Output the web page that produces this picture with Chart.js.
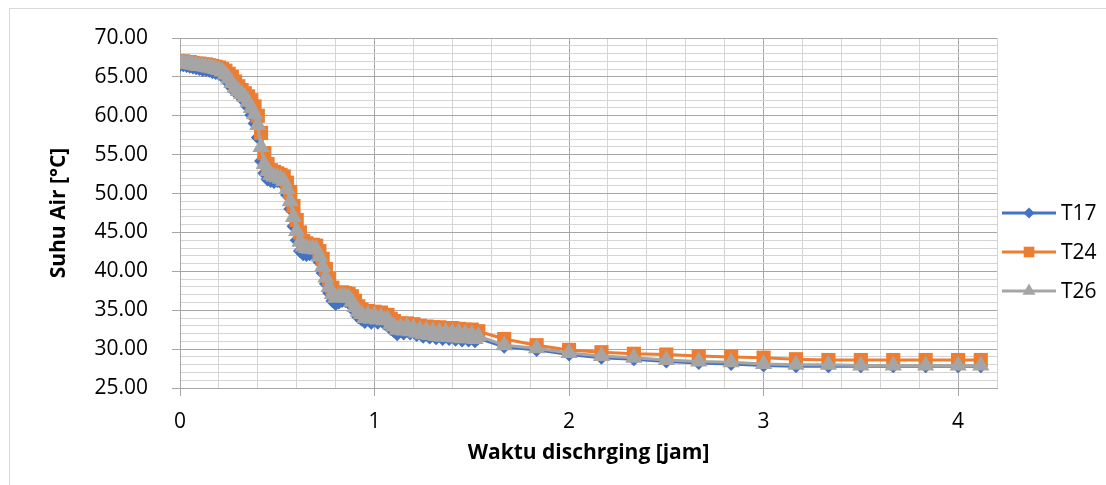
<!DOCTYPE html>
<html>
<head>
<meta charset="utf-8">
<script src="https://cdn.jsdelivr.net/npm/chart.js@4.4.1/dist/chart.umd.min.js"></script>
<style>
    html, body { margin: 0; padding: 0; background: #fff; }
    #wrap { width: 1106px; height: 485px; position: relative; }
</style>
</head>
<body>
<div id="wrap"><canvas id="dischargeChart" width="1106" height="485"></canvas></div>
<script>
// waktu pengukuran (menit sejak mulai discharging)
const menit = [
    0, 1, 2, 3, 4, 5, 6, 7, 8, 9,
    10, 11, 12, 13, 14, 15, 16, 17, 18, 19,
    20, 21, 22, 23, 24, 25, 26, 27, 28, 29,
    30, 31, 32, 33, 34, 35, 36, 37, 38, 39,
    40, 41, 42, 43, 44, 45, 46, 47, 48, 49,
    50, 51, 52, 53, 54, 55, 56, 57, 58, 59,
    60, 61, 62, 63, 64, 65, 66, 67, 68, 69,
    70, 71, 72, 73, 74, 75, 76, 77, 78, 79,
    80, 81, 82, 83, 84, 85, 86, 87, 88, 89,
    90, 91, 92,
    100, 110, 120, 130, 140, 150, 160, 170, 180, 190,
    200, 210, 220, 230, 240, 247
];

const t17 = [
    66.5, 66.5, 66.4, 66.3, 66.2, 66.1, 66.0, 65.9, 65.9, 65.8,
    65.6, 65.5, 65.4, 65.1, 64.7, 64.2, 63.6, 63.1, 62.7, 62.3,
    61.8, 61.1, 60.1, 59.0, 57.2, 54.2, 52.6, 51.8, 51.6, 51.5,
    51.6, 51.5, 51.1, 49.8, 48.0, 45.8, 44.0, 42.6, 42.2, 42.1,
    42.2, 42.3, 42.2, 41.2, 39.8, 38.4, 37.2, 36.2, 35.8, 36.0,
    36.2, 36.2, 36.1, 35.5, 34.8, 34.1, 33.8, 33.5, 33.8, 33.4,
    33.9, 33.4, 33.7, 33.3, 33.2, 32.6, 32.3, 31.9, 32.4, 32.0,
    32.6, 32.0, 32.4, 31.8, 32.2, 31.6, 32.1, 31.5, 32.0, 31.4,
    31.9, 31.3, 31.9, 31.3, 31.8, 31.2, 31.8, 31.1, 31.7, 31.1,
    31.6, 31.0, 31.4,
    30.3, 29.9, 29.3, 28.9, 28.7, 28.4, 28.2, 28.1, 27.9, 27.8,
    27.8, 27.8, 27.8, 27.8, 27.8, 27.8
];

const t24 = [
    67.0, 67.0, 66.9, 66.9, 66.8, 66.7, 66.7, 66.6, 66.6, 66.5,
    66.4, 66.3, 66.2, 66.0, 65.8, 65.4, 65.0, 64.4, 63.8, 63.3,
    62.9, 62.5, 62.0, 61.2, 60.0, 57.8, 55.2, 53.8, 53.0, 52.8,
    52.6, 52.4, 52.2, 51.4, 50.2, 48.4, 46.6, 45.0, 43.9, 43.6,
    43.4, 43.4, 43.3, 42.6, 41.6, 40.3, 39.0, 37.9, 37.2, 37.2,
    37.3, 37.2, 37.1, 36.8, 36.2, 35.5, 35.1, 34.7, 34.9, 34.5,
    34.8, 34.5, 34.7, 34.3, 34.4, 33.9, 33.6, 33.1, 33.3, 32.9,
    33.3, 32.9, 33.2, 32.8, 33.0, 32.6, 32.9, 32.5, 32.8, 32.4,
    32.8, 32.3, 32.7, 32.3, 32.7, 32.2, 32.6, 32.2, 32.5, 32.1,
    32.5, 32.0, 32.3,
    31.3, 30.5, 29.9, 29.6, 29.4, 29.3, 29.1, 29.0, 28.9, 28.7,
    28.6, 28.6, 28.6, 28.6, 28.6, 28.6
];

const t26 = [
    66.8, 66.8, 66.7, 66.7, 66.6, 66.5, 66.4, 66.4, 66.3, 66.2,
    66.1, 66.0, 65.9, 65.7, 65.3, 64.8, 64.2, 63.6, 63.2, 62.8,
    62.4, 61.8, 61.0, 60.2, 58.8, 56.0, 53.8, 52.9, 52.4, 52.2,
    52.1, 51.9, 51.6, 50.6, 49.0, 47.0, 45.2, 43.8, 43.2, 43.0,
    42.9, 42.9, 42.8, 41.9, 40.6, 39.2, 38.0, 37.1, 36.6, 36.7,
    36.8, 36.7, 36.6, 36.1, 35.4, 34.8, 34.5, 34.0, 34.4, 33.9,
    34.3, 33.8, 34.1, 33.7, 33.8, 33.2, 32.9, 32.5, 32.8, 32.4,
    32.9, 32.3, 32.7, 32.1, 32.5, 31.9, 32.4, 31.8, 32.3, 31.7,
    32.2, 31.6, 32.2, 31.6, 32.1, 31.5, 32.1, 31.4, 32.0, 31.4,
    31.9, 31.3, 31.7,
    30.5, 30.1, 29.5, 29.1, 28.9, 28.6, 28.4, 28.3, 28.1, 28.0,
    28.0, 27.9, 27.9, 27.9, 27.9, 27.9
];

const seriesNames = ['T17', 'T24', 'T26'];
const seriesColors = ['#4472C4', '#ED7D31', '#A5A5A5'];
const seriesMarkers = ['rectRot', 'rect', 'triangle'];
const markerRadius = [7, 10, 10];

const FONT = "'Open Sans', 'Liberation Sans', sans-serif";
const GRID_MAJOR = '#a6a6a6';
const GRID_MINOR = '#d4d4d4';

function toPoints(values) {
    return values.map((v, i) => ({ x: menit[i] / 60, y: v }));
}

function isWhole(v, step) {
    const q = v / step;
    return Math.abs(q - Math.round(q)) < 1e-6;
}

// legenda di kanan, digambar sendiri supaya posisinya bisa diatur
const sideLegend = {
    id: 'sideLegend',
    afterDraw(chart) {
        const ctx = chart.ctx;
        const rowsY = [213, 252, 291];
        const legendRadius = [5.5, 7.5, 7.5];
        ctx.save();
        chart.data.datasets.forEach((ds, i) => {
            const y = rowsY[i];
            ctx.strokeStyle = ds.borderColor;
            ctx.lineWidth = 3;
            ctx.beginPath();
            ctx.moveTo(1002, y);
            ctx.lineTo(1056, y);
            ctx.stroke();
            ctx.fillStyle = ds.backgroundColor;
            Chart.helpers.drawPoint(ctx, {
                pointStyle: ds.pointStyle,
                radius: legendRadius[i],
                borderWidth: 0
            }, 1029, y);
            ctx.fillStyle = '#000';
            ctx.font = '21px ' + FONT;
            ctx.textAlign = 'left';
            ctx.textBaseline = 'middle';
            ctx.fillText(ds.label, 1061, y + 1);
        });
        ctx.restore();
    }
};

// bingkai tipis di sekeliling grafik
const frame = {
    id: 'frame',
    beforeDraw(chart) {
        const ctx = chart.ctx;
        ctx.save();
        ctx.fillStyle = '#fff';
        ctx.fillRect(0, 0, chart.width, chart.height);
        ctx.strokeStyle = '#d9d9d9';
        ctx.lineWidth = 1;
        ctx.strokeRect(9.5, 8.5, 1300, 600);
        ctx.restore();
    }
};

const datasets = seriesNames.map((name, i) => ({
    label: name,
    data: toPoints([t17, t24, t26][i]),
    borderColor: seriesColors[i],
    backgroundColor: seriesColors[i],
    borderWidth: 3,
    pointStyle: seriesMarkers[i],
    pointRadius: markerRadius[i],
    pointBorderWidth: 0,
    pointBackgroundColor: seriesColors[i],
    tension: 0,
    order: 3 - i
}));

new Chart(document.getElementById('dischargeChart'), {
    type: 'scatter',
    data: { datasets: datasets },
    options: {
        responsive: false,
        animation: false,
        showLine: true,
        layout: { padding: { top: 38, right: 109, bottom: 0, left: 0 } },
        plugins: {
            legend: { display: false },
            tooltip: { enabled: false }
        },
        scales: {
            x: {
                type: 'linear',
                min: 0,
                max: 4.2,
                afterFit(scale) { scale.height = 97; },
                ticks: {
                    stepSize: 0.2,
                    autoSkip: false,
                    maxRotation: 0,
                    padding: 13,
                    color: '#000',
                    font: { family: FONT, size: 21 },
                    callback: v => isWhole(v, 1) ? String(Math.round(v)) : ''
                },
                grid: {
                    color: c => c.tick && isWhole(c.tick.value, 1) ? GRID_MAJOR : GRID_MINOR,
                    tickColor: c => c.tick && isWhole(c.tick.value, 1) ? GRID_MAJOR : 'transparent',
                    tickLength: 8
                },
                border: { color: GRID_MAJOR },
                title: {
                    display: true,
                    text: 'Waktu dischrging [jam]',
                    color: '#000',
                    font: { family: FONT, size: 21, weight: 'bold' },
                    padding: { top: 0, bottom: 19 }
                }
            },
            y: {
                type: 'linear',
                min: 25,
                max: 70,
                afterFit(scale) { scale.width = 180; },
                ticks: {
                    stepSize: 1,
                    autoSkip: false,
                    padding: 24,
                    color: '#000',
                    font: { family: FONT, size: 21 },
                    callback: v => isWhole(v, 5) ? v.toFixed(2) : ''
                },
                grid: {
                    color: c => c.tick && isWhole(c.tick.value, 5) ? GRID_MAJOR : GRID_MINOR,
                    tickColor: c => c.tick && isWhole(c.tick.value, 5) ? GRID_MAJOR : 'transparent',
                    tickLength: 8
                },
                border: { color: GRID_MAJOR },
                title: {
                    display: true,
                    text: 'Suhu Air [°C]',
                    color: '#000',
                    font: { family: FONT, size: 21, weight: 'bold' },
                    padding: { top: 46, bottom: 0 }
                }
            }
        }
    },
    plugins: [frame, sideLegend]
});
</script>
</body>
</html>
